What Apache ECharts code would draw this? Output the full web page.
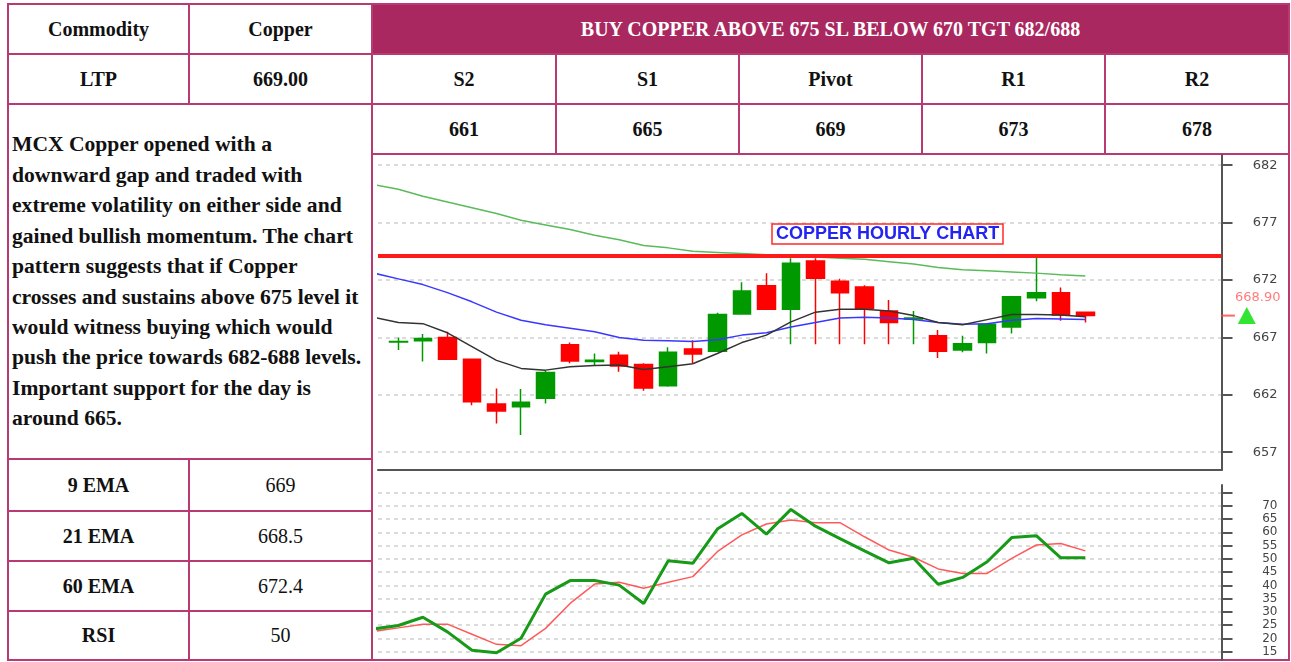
<!DOCTYPE html>
<html>
<head>
<meta charset="utf-8">
<script src="https://cdn.jsdelivr.net/npm/echarts@6/dist/echarts.min.js"></script>
<style>
html,body{margin:0;padding:0;background:#fff;width:1291px;height:662px;overflow:hidden;}
.cell{position:absolute;box-sizing:border-box;border:2px solid #b73a73;display:flex;align-items:center;justify-content:center;font-family:'Liberation Serif',serif;font-size:20px;color:#111;white-space:nowrap;}
.b{font-weight:bold;}
.hdr{background:#aa2860;color:#fff;font-weight:bold;}
.para{justify-content:flex-start;padding-left:3px;font-weight:bold;font-size:21.6px;line-height:30.4px;}
#chart{position:absolute;left:0;top:0;width:1291px;height:662px;}
</style>
</head>
<body>
<div id="cells"></div>
<div id="chart"></div>
<script>
// ---------- table texts ----------
const commodityLabel = 'Commodity';
const commodityName = 'Copper';
const ltpLabel = 'LTP';
const ltpValue = '669.00';
const headline = 'BUY COPPER ABOVE 675 SL BELOW 670 TGT 682/688';
const pivotLabels = ['S2', 'S1', 'Pivot', 'R1', 'R2'];
const pivotValues = ['661', '665', '669', '673', '678'];
const commentLines = [
  'MCX Copper opened with a',
  'downward gap and traded with',
  'extreme volatility on either side and',
  'gained bullish momentum. The chart',
  'pattern suggests that if Copper',
  'crosses and sustains above 675 level it',
  'would witness buying which would',
  'push the price towards 682-688 levels.',
  'Important support for the day is',
  'around 665.'
];
const indicatorLabels = ['9 EMA', '21 EMA', '60 EMA', 'RSI'];
const indicatorValues = ['669', '668.5', '672.4', '50'];

// ---------- chart data (hourly bars) ----------
const barIndex = [0,1,2,3,4,5,6,7,8,9,10,11,12,13,14,15,16,17,18,19,20,21,22,23,24,25,26,27,28];
const openVals  = [666.6,666.7,667.0,665.1,661.2,660.95,661.7,666.35,664.9,665.45,664.65,662.8,666.0,665.8,669.05,671.5,669.45,673.65,671.9,671.4,669.3,668.6,667.15,665.9,666.55,667.9,670.45,670.9,669.2];
const closeVals = [666.65,666.9,665.1,661.4,660.6,661.35,663.95,664.95,665.0,664.5,662.6,665.7,665.55,669.0,671.05,669.45,673.45,672.15,670.9,669.55,668.3,668.7,665.8,666.45,668.15,670.55,670.9,668.95,668.9];
const lowVals   = [665.9,664.9,665.1,661.1,659.5,658.5,661.25,664.75,664.5,664.0,662.35,662.7,664.75,665.75,669.05,669.45,666.4,666.4,666.4,666.4,666.4,666.4,665.2,665.7,665.6,667.35,670.15,668.45,668.3];
const highVals  = [667.0,667.3,667.5,665.1,662.55,662.5,664.1,666.55,665.6,665.75,664.75,666.15,666.75,669.15,671.8,672.6,673.9,673.9,672.1,671.55,670.25,669.3,667.65,667.15,668.25,670.55,673.95,671.35,669.2];
// indicator lines start one bar earlier (clipped at the left edge)
const lineIndex = [-1,0,1,2,3,4,5,6,7,8,9,10,11,12,13,14,15,16,17,18,19,20,21,22,23,24,25,26,27,28];
const ema9  = [668.75,668.3,668.2,667.4,666.2,665.0,664.3,664.15,664.45,664.55,664.6,664.2,664.45,664.7,665.6,666.55,667.2,668.35,669.2,669.45,669.45,669.3,668.9,668.3,668.1,668.55,669.0,669.0,668.95,668.8];
const ema21 = [672.6,672.1,671.6,670.9,670.1,669.2,668.5,668.1,667.8,667.5,667.0,666.75,666.7,666.65,666.8,667.2,667.4,667.9,668.3,668.7,668.75,668.7,668.55,668.3,668.15,668.2,668.5,668.65,668.6,668.55];
const ema60 = [680.3,679.9,679.3,678.8,678.3,677.8,677.2,676.8,676.4,675.9,675.5,675.0,674.8,674.5,674.4,674.3,674.2,674.1,674.0,673.9,673.8,673.6,673.4,673.1,672.9,672.8,672.7,672.6,672.45,672.35];
const rsiVals    = [23.6,24.9,28.0,22.5,15.6,14.6,20.1,36.7,41.8,41.8,40.1,33.2,49.3,48.3,61.2,67.1,59.3,68.6,62.3,57.6,53.0,48.5,50.2,40.4,43.0,48.9,58.0,58.7,50.4,50.4];
const rsiSignal  = [22.7,24.0,25.4,25.4,21.6,17.8,17.3,23.8,33.2,40.5,41.2,38.9,41.2,43.3,52.7,59.0,63.1,64.6,63.6,63.6,58.3,53.3,50.6,46.2,44.5,44.5,50.2,55.2,55.8,53.0];
const priceTicks = [657, 662, 667, 672, 677, 682];
const rsiTicks   = [15, 20, 25, 30, 35, 40, 45, 50, 55, 60, 65, 70, 75];
const rsiLabelTicks = [15, 20, 25, 30, 35, 40, 45, 50, 55, 60, 65, 70];
const resistanceLevel = 674.1;
const lastPrice = 668.90;
const chartTitle = 'COPPER HOURLY CHART';

// ---------- table layout ----------
const cellsEl = document.getElementById('cells');
function cell(x1, y1, x2, y2, html, cls) {
  const d = document.createElement('div');
  d.className = 'cell ' + (cls || '');
  d.style.left = x1 + 'px'; d.style.top = y1 + 'px';
  d.style.width = (x2 - x1) + 'px'; d.style.height = (y2 - y1) + 'px';
  d.innerHTML = html;
  cellsEl.appendChild(d);
  return d;
}
const colX = [373, 557, 740, 923, 1106, 1290];
cell(7, 3, 190, 55, commodityLabel, 'b');
cell(188, 3, 373, 55, commodityName, 'b');
cell(371, 3, 1290, 55, headline, 'hdr');
cell(7, 53, 190, 105, ltpLabel, 'b');
cell(188, 53, 373, 105, ltpValue, 'b');
for (let i = 0; i < 5; i++) {
  cell(colX[i] - 2, 53, colX[i + 1], 105, pivotLabels[i], 'b');
  cell(colX[i] - 2, 103, colX[i + 1], 155, pivotValues[i], 'b');
}
cell(7, 103, 373, 460, '<div>' + commentLines.join('<br>') + '</div>', 'para');
const rowY = [458, 510, 560, 610, 661];
for (let i = 0; i < 4; i++) {
  cell(7, rowY[i], 190, rowY[i + 1] + (i < 3 ? 2 : 0), indicatorLabels[i], 'b');
  cell(188, rowY[i], 373, rowY[i + 1] + (i < 3 ? 2 : 0), indicatorValues[i], '');
}
cell(371, 153, 1290, 661, '', '');

// ---------- chart ----------
const chart = echarts.init(document.getElementById('chart'), null, {renderer: 'canvas'});
const candleData = barIndex.map((x, i) => [x, openVals[i], closeVals[i], lowVals[i], highVals[i]]);
const pair = arr => lineIndex.map((x, i) => [x, arr[i]]);
const xMin = -0.83, xMax = 33.55;
const gridLine = {show: true, lineStyle: {color: '#d0d0d0', type: [4, 4], width: 1.5}};
const axisCol = '#555';
chart.setOption({
  animation: false,
  title: {
    text: chartTitle, left: 772, top: 224, padding: [1, 4, 1, 4],
    borderColor: '#ff2a2a', borderWidth: 1.5, backgroundColor: '#fff',
    textStyle: {fontFamily: 'Liberation Sans', fontWeight: 'bold', fontSize: 18, lineHeight: 18, color: '#2424f0'}
  },
  grid: [
    {left: 378, top: 155, width: 843.5, height: 315},
    {left: 378, top: 485, width: 843.5, height: 175}
  ],
  xAxis: [
    {type: 'value', gridIndex: 0, min: xMin, max: xMax,
     axisLine: {show: true, onZero: false, lineStyle: {color: axisCol, width: 2}},
     axisTick: {show: false}, axisLabel: {show: false}, splitLine: {show: false}},
    {type: 'value', gridIndex: 1, min: xMin, max: xMax, show: false}
  ],
  yAxis: [
    {type: 'value', gridIndex: 0, position: 'right', min: 655.45, max: 682.89,
     axisLine: {show: true, onZero: false, lineStyle: {color: axisCol, width: 2}},
     axisTick: {show: true, length: 11, customValues: priceTicks, lineStyle: {color: axisCol, width: 2}},
     axisLabel: {customValues: priceTicks, align: 'right', margin: 56, color: '#444', fontFamily: 'DejaVu Sans', fontSize: 13},
     splitLine: gridLine},
    {type: 'value', gridIndex: 1, position: 'right', min: 11.9, max: 77.8,
     axisLine: {show: true, onZero: false, lineStyle: {color: axisCol, width: 2}},
     axisTick: {show: true, length: 11, customValues: rsiTicks, lineStyle: {color: axisCol, width: 2}},
     axisLabel: {customValues: rsiLabelTicks, align: 'right', margin: 56, color: '#444', fontFamily: 'DejaVu Sans', fontSize: 12},
     splitLine: gridLine}
  ],
  series: [
    {type: 'candlestick', xAxisIndex: 0, yAxisIndex: 0, data: candleData, barWidth: 18,
     itemStyle: {color: '#009a00', color0: '#ff0000', borderColor: '#009a00', borderColor0: '#ff0000', borderColorDoji: '#009a00', borderWidth: 1.5},
     markLine: {symbol: 'none', silent: true, label: {show: false},
                lineStyle: {color: '#ff1a1a', width: 4, type: 'solid'}, data: [{yAxis: resistanceLevel}]}},
    {type: 'line', xAxisIndex: 0, yAxisIndex: 0, data: pair(ema60), symbol: 'none', lineStyle: {color: '#5abb5a', width: 1.5}},
    {type: 'line', xAxisIndex: 0, yAxisIndex: 0, data: pair(ema21), symbol: 'none', lineStyle: {color: '#3838ff', width: 1.5}},
    {type: 'line', xAxisIndex: 0, yAxisIndex: 0, data: pair(ema9), symbol: 'none', lineStyle: {color: '#333', width: 1.5}},
    {type: 'scatter', xAxisIndex: 0, yAxisIndex: 0, clip: false, data: [[33.81, lastPrice]],
     symbol: 'rect', symbolSize: [14, 2], itemStyle: {color: '#ff4040'}},
    {type: 'scatter', xAxisIndex: 0, yAxisIndex: 0, clip: false, data: [[34.58, lastPrice]],
     symbol: 'triangle', symbolSize: [18, 17], itemStyle: {color: '#00dd00'},
     label: {show: true, position: 'top', distance: 3, offset: [11, 0], formatter: lastPrice.toFixed(2),
             color: '#ff5a5a', fontFamily: 'DejaVu Sans', fontSize: 13}},
    {type: 'line', xAxisIndex: 1, yAxisIndex: 1, data: pair(rsiSignal), symbol: 'none', lineStyle: {color: '#ff5a5a', width: 1.5}},
    {type: 'line', xAxisIndex: 1, yAxisIndex: 1, data: pair(rsiVals), symbol: 'none', lineStyle: {color: '#179a17', width: 3}}
  ]
});
</script>
</body>
</html>
